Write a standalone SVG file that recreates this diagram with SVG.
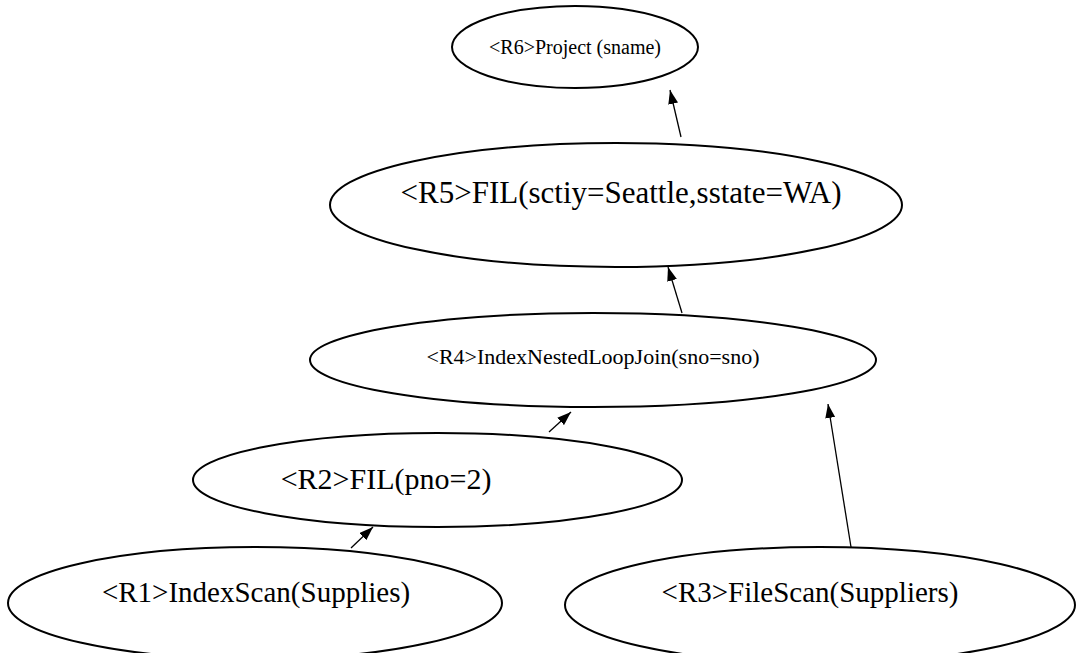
<svg xmlns="http://www.w3.org/2000/svg" width="1076" height="653" viewBox="0 0 1076 653">
  <style>
    .node ellipse { fill: #ffffff; stroke: #000000; stroke-width: 2; }
    .node text { font-family: "Liberation Serif", "Times New Roman", serif; fill: #000000; text-anchor: middle; }
    .edge { stroke: #000000; stroke-width: 1.3; fill: none; marker-end: url(#head); }
  </style>
  <defs>
    <marker id="head" viewBox="0 0 14 10" refX="14" refY="5" markerWidth="14" markerHeight="10" markerUnits="userSpaceOnUse" orient="auto">
      <path d="M0,0 L14,5 L0,10 z" fill="#000000"/>
    </marker>
  </defs>
  <rect width="1076" height="653" fill="#ffffff"/>

  <!-- operator nodes -->
  <g id="R6" class="node">
    <ellipse cx="575" cy="47" rx="123" ry="41"/>
    <text x="575" y="54" font-size="20">&lt;R6&gt;Project (sname)</text>
  </g>
  <g id="R5" class="node">
    <ellipse cx="616" cy="205" rx="286" ry="62"/>
    <text x="621" y="203" font-size="31">&lt;R5&gt;FIL(sctiy=Seattle,sstate=WA)</text>
  </g>
  <g id="R4" class="node">
    <ellipse cx="593" cy="360" rx="283" ry="47"/>
    <text x="593" y="364" font-size="22">&lt;R4&gt;IndexNestedLoopJoin(sno=sno)</text>
  </g>
  <g id="R2" class="node">
    <ellipse cx="437.5" cy="480" rx="244.5" ry="47"/>
    <text x="386" y="489" font-size="30">&lt;R2&gt;FIL(pno=2)</text>
  </g>
  <g id="R1" class="node">
    <ellipse cx="255" cy="603" rx="247" ry="56"/>
    <text x="256" y="602" font-size="29">&lt;R1&gt;IndexScan(Supplies)</text>
  </g>
  <g id="R3" class="node">
    <ellipse cx="820" cy="605" rx="255" ry="58"/>
    <text x="810" y="602" font-size="29">&lt;R3&gt;FileScan(Suppliers)</text>
  </g>

  <!-- connectors: child to parent -->
  <g id="edges">
    <line class="edge" x1="681" y1="137" x2="670" y2="90"/>
    <line class="edge" x1="682" y1="313" x2="668" y2="267"/>
    <line class="edge" x1="549" y1="432" x2="571" y2="412"/>
    <line class="edge" x1="351" y1="548" x2="373" y2="527"/>
    <line class="edge" x1="851" y1="547" x2="828" y2="404"/>
  </g>
</svg>
